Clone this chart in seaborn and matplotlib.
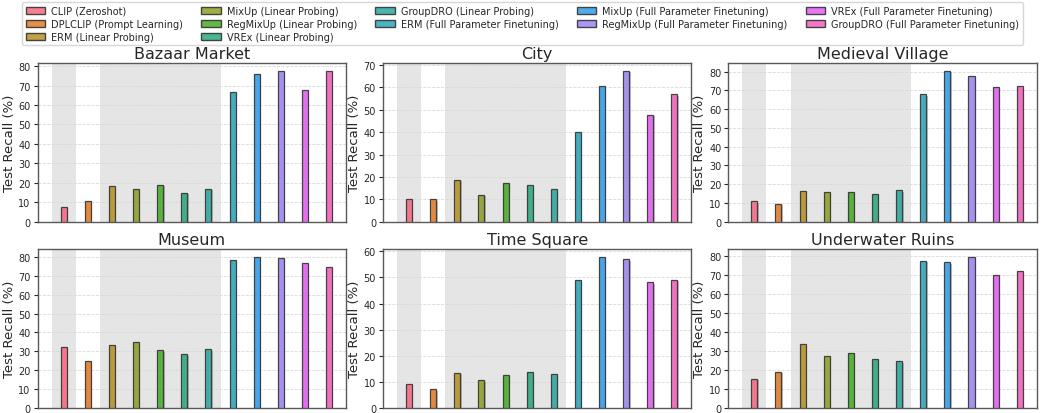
import matplotlib
matplotlib.use("Agg")
import matplotlib.pyplot as plt
import matplotlib.patheffects as pe
from matplotlib.patches import Patch
from matplotlib.ticker import MultipleLocator
import pandas as pd
import seaborn as sns

methods = [
    "CLIP (Zeroshot)",
    "DPLCLIP (Prompt Learning)",
    "ERM (Linear Probing)",
    "MixUp (Linear Probing)",
    "RegMixUp (Linear Probing)",
    "VREx (Linear Probing)",
    "GroupDRO (Linear Probing)",
    "ERM (Full Parameter Finetuning)",
    "MixUp (Full Parameter Finetuning)",
    "RegMixUp (Full Parameter Finetuning)",
    "VREx (Full Parameter Finetuning)",
    "GroupDRO (Full Parameter Finetuning)",
]

scenes = ["Bazaar Market", "City", "Medieval Village",
          "Museum", "Time Square", "Underwater Ruins"]

bazaar_market = [7.6, 10.4, 18.6, 16.8, 19.1, 14.8, 16.8, 66.7, 76.0, 77.6, 67.8, 77.6]
city = [10.0, 10.0, 18.8, 11.9, 17.3, 16.2, 14.4, 40.2, 60.7, 67.4, 47.6, 56.8]
medieval_village = [10.9, 9.6, 16.2, 15.8, 15.9, 14.9, 16.7, 67.9, 80.5, 77.9, 71.8, 72.1]
museum = [32.2, 24.9, 33.1, 34.7, 30.6, 28.4, 31.1, 78.4, 79.9, 79.4, 77.0, 74.6]
time_square = [9.1, 7.2, 13.4, 10.6, 12.5, 13.9, 12.9, 49.1, 57.8, 56.9, 48.1, 49.0]
underwater_ruins = [15.3, 19.2, 33.6, 27.3, 28.9, 26.0, 24.6, 77.5, 76.6, 79.4, 69.9, 72.2]

scene_values = [bazaar_market, city, medieval_village,
                museum, time_square, underwater_ruins]

sns.set_theme(style="white")
plt.rcParams["font.family"] = ["DejaVu Sans"]

palette = sns.color_palette("husl", len(methods))

fig = plt.figure(figsize=(10.45, 4.14), dpi=100)
gs = fig.add_gridspec(2, 3, left=0.036, right=0.992, top=0.845, bottom=0.012,
                      wspace=0.12, hspace=0.175)

shadow = [pe.SimplePatchShadow(offset=(1.0, -1.0), shadow_rgbFace="0.5", alpha=0.5),
          pe.Normal()]

for k, (scene, vals) in enumerate(zip(scenes, scene_values)):
    ax = fig.add_subplot(gs[k // 3, k % 3])
    df = pd.DataFrame({"method": methods, "recall": vals})
    # shaded groups: zero-shot and linear probing
    ax.axvspan(-0.5, 0.5, color="grey", alpha=0.2, lw=0, zorder=0)
    ax.axvspan(1.5, 6.5, color="grey", alpha=0.2, lw=0, zorder=0)
    sns.barplot(data=df, x="method", y="recall", hue="method", order=methods,
                hue_order=methods, palette=palette, width=0.25, dodge=False,
                legend=False, edgecolor="0.2", linewidth=0.9, ax=ax,
                saturation=1)
    for cont in ax.containers:
        for bar in cont:
            bar.set_path_effects(shadow)
            bar.set_alpha(0.9)
            bar.set_zorder(3)
    ax.set_xlim(-1.08, 11.7)
    ax.set_title(scene, fontsize=11.5, pad=4)
    ax.set_xlabel("")
    ax.set_ylabel("Test Recall (%)", fontsize=9.5, labelpad=2)
    ax.set_xticks([])
    ax.yaxis.set_major_locator(MultipleLocator(10))
    ax.tick_params(axis="y", labelsize=7, length=3, width=0.8, left=True, pad=2)
    ax.yaxis.grid(True, linestyle="--", color="0.85", linewidth=0.6)
    ax.set_axisbelow(True)
    for s in ax.spines.values():
        s.set_color("0.35")
        s.set_linewidth(1.0)

handles = [Patch(facecolor=c, edgecolor="0.2", alpha=0.9, label=m)
           for c, m in zip(palette, methods)]
fig.legend(handles=handles, loc="upper center", bbox_to_anchor=(0.5, 1.005),
           ncol=5, fontsize=7.0, frameon=True, handlelength=2.0,
           handletextpad=0.6, columnspacing=1.9, labelspacing=0.3,
           borderpad=0.4, edgecolor="0.8", fancybox=True)

fig.savefig("out.png", dpi=100)
